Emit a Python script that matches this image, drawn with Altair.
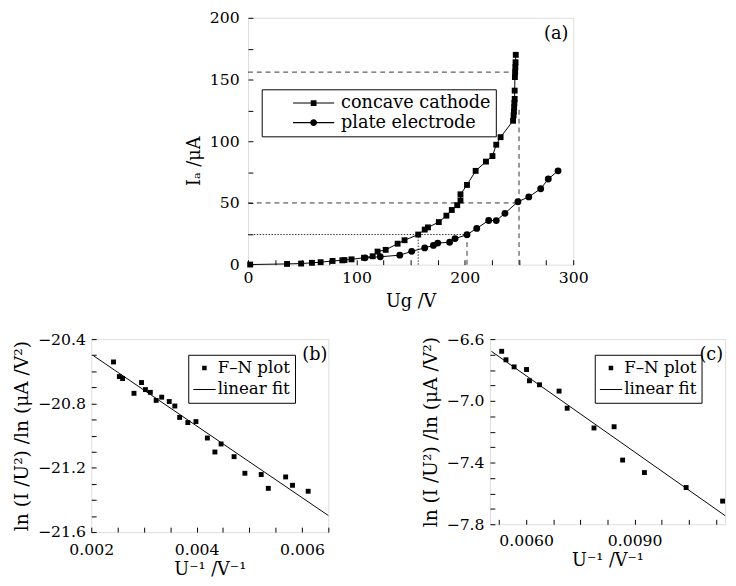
import altair as alt
import pandas as pd

FONT = "DejaVu Serif"

# ---------------- panel (a): anode current vs gate voltage
a_series = ["concave cathode", "plate electrode"]
cc_U = [2, 36, 49, 59, 67, 78, 87, 89, 95.5, 107, 115, 119.5, 127, 138, 144.4, 157, 163, 166,
        176, 183, 188, 193, 196, 196, 202, 210, 219.5, 225.5, 229, 233, 244.5, 245, 245.3,
        245.5, 245.7, 246, 246, 246.2, 246.4, 246.6, 246.8, 247]
cc_I = [0.1, 0.6, 0.9, 1.5, 2.0, 3.0, 3.5, 3.7, 4.3, 5.6, 6.8, 10.6, 12.0, 17.0, 19.8, 24.4, 28.4,
        30.2, 34.5, 39.7, 44.3, 48.2, 52.0, 57.0, 64.6, 76.0, 83.5, 88.0, 97.2, 103.3, 116.6, 121.0,
        124.0, 127.5, 131.0, 134.3, 141.0, 152.0, 156.0, 160.0, 164.0, 170.0]
pe_U = [108, 122, 140, 151, 163, 171, 175, 186, 191, 202, 211, 222, 229, 237, 249, 259, 270, 277, 286]
pe_I = [5.5, 6.4, 7.7, 10.8, 13.6, 15.6, 17.5, 18.2, 21.1, 24.3, 29.4, 35.8, 35.7, 41.6, 51.0,
        54.9, 61.5, 69.4, 76.0]
guide_U1 = [0, 0, 0, 250, 157, 202]
guide_U2 = [246, 250, 202, 250, 157, 202]
guide_I1 = [156, 50, 24.4, 0, 0, 0]
guide_I2 = [156, 50, 24.4, 127, 24.4, 24.4]
guide_style = ["dash", "dash", "dot", "dash", "dot", "dash"]
a_xticks = [0, 25, 50, 75, 100, 125, 150, 175, 200, 225, 250, 275, 300]
a_yticks = [0, 25, 50, 75, 100, 125, 150, 175, 200]

# ---------------- panel (b): F-N plot
fn_series = ["F–N plot", "linear fit"]
b_x = [0.002422, 0.002533, 0.002595, 0.002811, 0.002954, 0.003028, 0.003121, 0.003232,
       0.003337, 0.00348, 0.003586, 0.003678, 0.003833, 0.003987, 0.004204, 0.004347,
       0.004464, 0.004711, 0.004916, 0.005226, 0.005361, 0.00569, 0.00582, 0.006117]
b_y = [-20.542, -20.633, -20.645, -20.737, -20.670, -20.714, -20.731, -20.781, -20.761,
       -20.788, -20.816, -20.887, -20.919, -20.913, -21.015, -21.102, -21.052, -21.131,
       -21.234, -21.242, -21.328, -21.257, -21.309, -21.346]
b_fit_x = [0.00204, 0.0065]
b_fit_y = [-20.503, -21.497]
b_xticks = [0.002, 0.0025, 0.003, 0.0035, 0.004, 0.0045, 0.005, 0.0055, 0.006, 0.0065]
b_yticks = [-21.6, -21.5, -21.4, -21.3, -21.2, -21.1, -21.0, -20.9, -20.8, -20.7, -20.6, -20.5, -20.4]

# ---------------- panel (c): F-N plot
c_x = [0.005324, 0.005443, 0.005668, 0.006011, 0.006092, 0.00637, 0.006911, 0.007135,
       0.007876, 0.008432, 0.008668, 0.00927, 0.010424, 0.011432]
c_y = [-6.679, -6.734, -6.780, -6.797, -6.870, -6.896, -6.937, -7.048, -7.176, -7.168,
       -7.384, -7.465, -7.562, -7.650]
c_fit_x = [0.00504, 0.0115]
c_fit_y = [-6.679, -7.744]
c_xticks = [0.00525, 0.006, 0.00675, 0.0075, 0.00825, 0.009, 0.00975, 0.0105, 0.01125]
c_yticks = [-7.8, -7.7, -7.6, -7.5, -7.4, -7.3, -7.2, -7.1, -7.0, -6.9, -6.8, -6.7, -6.6]

# legend symbols built from filled shapes (unit box -1..1): line pieces + marker
PATH_SQ_LINE = ("M-1,-0.025L-0.14,-0.025L-0.14,0.025L-1,0.025Z"
                "M0.14,-0.025L1,-0.025L1,0.025L0.14,0.025Z"
                "M-0.14,-0.14L0.14,-0.14L0.14,0.14L-0.14,0.14Z")
PATH_CI_LINE = ("M-1,-0.025L-0.16,-0.025L-0.16,0.025L-1,0.025Z"
                "M0.16,-0.025L1,-0.025L1,0.025L0.16,0.025Z"
                "M0.17,0A0.17,0.17,0,1,1,-0.17,0A0.17,0.17,0,1,1,0.17,0Z")
PATH_SQ = "M-0.2,-0.2L0.2,-0.2L0.2,0.2L-0.2,0.2Z"
PATH_LINE = "M-1,-0.045L1,-0.045L1,0.045L-1,0.045Z"


def axis(values, every, base, fmt, title, pad, tpad, tsize=18, title_y=None):
    expr = (f"abs((datum.value - ({base}))/{every} - round((datum.value - ({base}))/{every}))"
            f" < 1e-6 ? datum.label : ''")
    extra = {} if title_y is None else {"titleY": title_y}
    return alt.Axis(values=values, labelExpr=expr, format=fmt, title=title, domain=False,
                    grid=False, ticks=True, tickSize=5, offset=-5, tickColor="black",
                    tickWidth=1, labelPadding=pad, titlePadding=tpad, labelFont=FONT,
                    labelFontSize=16, labelColor="black", titleFont=FONT,
                    titleFontSize=tsize, titleFontWeight="normal", titleColor="black",
                    labelFlush=False, labelOverlap=False, **extra)


def panel_title(text, dy, dx):
    return alt.TitleParams(text, anchor="end", frame="group", orient="top", font=FONT,
                           fontSize=18, fontWeight="normal", color="black",
                           baseline="alphabetic", offset=0, dy=dy, dx=dx)


def legend(lx, ly, size, fsize, soff, loff, rpad, clip):
    return alt.Legend(title=None, orient="none", legendX=lx, legendY=ly,
                      direction="vertical", symbolSize=size, symbolStrokeColor="black",
                      symbolStrokeWidth=0, symbolFillColor="black", labelFont=FONT,
                      labelFontSize=fsize, labelColor="black", padding=5,
                      symbolOffset=soff, labelOffset=loff, rowPadding=rpad,
                      clipHeight=clip, strokeColor="black", fillColor="white",
                      cornerRadius=0, labelLimit=400)


# ---------------- build (a)
dfa = pd.DataFrame({
    "U": cc_U + pe_U,
    "I": cc_I + pe_I,
    "series": [a_series[0]] * len(cc_U) + [a_series[1]] * len(pe_U),
    "k": list(range(len(cc_U))) + list(range(len(pe_U))),
})
dfg = pd.DataFrame({"U": guide_U1, "U2": guide_U2, "I": guide_I1, "I2": guide_I2,
                    "style": guide_style})

xa = alt.X("U:Q", scale=alt.Scale(domain=[0, 300], nice=False, zero=False),
           axis=axis(a_xticks, 100, 0, "d", "Ug /V", 5, 8))
ya = alt.Y("I:Q", scale=alt.Scale(domain=[0, 200], nice=False, zero=False),
           axis=axis(a_yticks, 50, 0, "d", "Iₐ /μA", 9, 6, title_y=146))

base_g = alt.Chart(dfg)
g_dash = base_g.transform_filter("datum.style == 'dash'").mark_rule(
    color="#333", strokeWidth=1, strokeDash=[5, 4]).encode(x=xa, x2="U2:Q", y=ya, y2="I2:Q")
g_dot = base_g.transform_filter("datum.style == 'dot'").mark_rule(
    color="#333", strokeWidth=1, strokeDash=[1.5, 1.5]).encode(x=xa, x2="U2:Q", y=ya, y2="I2:Q")

base_a = alt.Chart(dfa)
lines_a = base_a.mark_line(color="black", strokeWidth=1).encode(
    x=xa, y=ya, detail="series:N", order="k:Q")
sq_a = base_a.transform_filter(f"datum.series == '{a_series[0]}'").mark_point(
    shape="square", filled=True, color="black", size=36, opacity=1).encode(x=xa, y=ya)
ci_a = base_a.transform_filter(f"datum.series == '{a_series[1]}'").mark_point(
    shape="circle", filled=True, color="black", size=49, opacity=1).encode(x=xa, y=ya)
leg_a = base_a.transform_filter("datum.I < -1000").mark_point(
    filled=True, color="black", opacity=1).encode(
    x=xa, y=ya,
    shape=alt.Shape("series:N", scale=alt.Scale(domain=a_series,
                                                range=[PATH_SQ_LINE, PATH_CI_LINE]),
                    legend=legend(14, 73, 1764, 18, 27, 7, 2, 18)))

panel_a = alt.layer(g_dash, g_dot, lines_a, sq_a, ci_a, leg_a).properties(
    width=332, height=252, title=panel_title("(a)", 48, -5))


# ---------------- build (b) and (c)
def fn_panel(px, py, fx, fy, xdom, ydom, xticks, xevery, xfmt, yticks, ybase, w, h,
             lx, ly, tag, tdy, tdx, xpad):
    dfp = pd.DataFrame({"x": px, "y": py})
    dff = pd.DataFrame({"x": fx, "y": fy, "series": fn_series[1]})
    xe = alt.X("x:Q", scale=alt.Scale(domain=xdom, nice=False, zero=False),
               axis=axis(xticks, xevery, 0, xfmt, "U⁻¹ /V⁻¹", xpad, 3))
    ye = alt.Y("y:Q", scale=alt.Scale(domain=ydom, nice=False, zero=False),
               axis=axis(yticks, 0.4, ybase, ".1f", "ln (I /U²) /ln (μA /V²)", 6, 6, 19))
    pts = alt.Chart(dfp).mark_point(shape="square", filled=True, color="black", size=25,
                                    opacity=1).encode(x=xe, y=ye)
    fit = alt.Chart(dff).mark_line(color="black", strokeWidth=1).encode(x=xe, y=ye)
    leg = alt.Chart(dff).transform_filter("datum.y > 1000").mark_point(
        filled=True, color="black", opacity=1).encode(
        x=xe, y=ye,
        shape=alt.Shape("series:N", scale=alt.Scale(domain=fn_series,
                                                    range=[PATH_SQ, PATH_LINE]),
                        legend=legend(lx, ly, 529, 17, 0, 2, 4, 17)))
    return alt.layer(fit, pts, leg).properties(
        width=w, height=h, title=panel_title(tag, tdy, tdx))


panel_b = fn_panel(b_x, b_y, b_fit_x, b_fit_y, [0.002, 0.0065], [-21.6, -20.4],
                   b_xticks, 0.002, ".3f", b_yticks, -20.4, 242, 197, 99, 16, "(b)", 47, -1, 10)
panel_c = fn_panel(c_x, c_y, c_fit_x, c_fit_y, [0.005, 0.0115], [-7.8, -6.6],
                   c_xticks, 0.003, ".4f", c_yticks, -6.6, 240, 189, 107, 16, "(c)", 47, -2, 9)

spacer = alt.Chart(pd.DataFrame({"s": [0]})).mark_point(opacity=0).encode(
    x=alt.value(0), y=alt.value(0)).properties(
    width=140, height=10, view=alt.ViewBackground(stroke="transparent"))

top = alt.hconcat(spacer, panel_a, spacing=20, bounds="flush").resolve_scale(
    shape="independent").resolve_legend(shape="independent")
bottom = alt.hconcat(panel_b, panel_c, spacing=165, bounds="flush").resolve_scale(
    shape="independent").resolve_legend(shape="independent")

chart = alt.vconcat(top, bottom, spacing=19).resolve_scale(
    shape="independent").resolve_legend(shape="independent").properties(
    padding={"left": 4, "top": -5, "right": 0, "bottom": 0}
).configure_view(stroke="#444", strokeWidth=1).configure(background="white")

chart.save("out.html", embed_options={"renderer": "svg", "actions": False})
